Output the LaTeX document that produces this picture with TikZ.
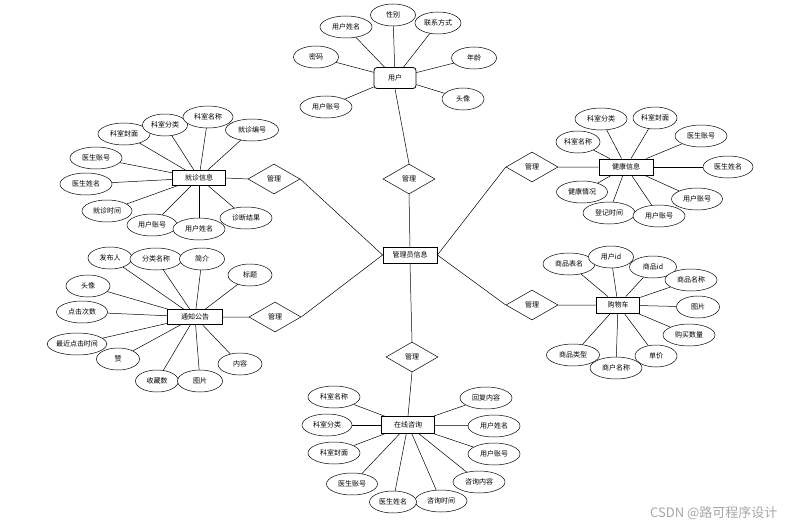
\documentclass[tikz,border=0pt]{standalone}
\usepackage{fontspec}
\newfontfamily\cjk{Noto Sans CJK SC}
\usetikzlibrary{shapes.geometric}

\begin{document}
\begin{tikzpicture} [x=1pt,y=-1pt,font=\cjk\fontsize{7}{8}\selectfont,
 attr/.style={draw,ellipse,fill=white,line width=.5pt,minimum height=22pt,inner sep=0pt},
 ent/.style={draw,fill=white,line width=.8pt,minimum height=16pt,inner sep=0pt},
 rel/.style={draw,diamond,aspect=1.7,fill=white,line width=.5pt,minimum width=52pt,minimum height=30pt,inner sep=0pt}]
\useasboundingbox (0,0) rectangle (787,527);
\node[ent,minimum width=54pt] (gly) at (410,255) {管理员信息};
\node[ent,rounded corners=3pt,minimum width=42pt,minimum height=21pt] (yh) at (395,78) {用户};
\node[ent,minimum width=53pt,minimum height=15pt] (jz) at (199,178) {就诊信息};
\node[ent,minimum width=54pt] (jk) at (626,167) {健康信息};
\node[ent,minimum width=55pt,minimum height=15pt] (tz) at (195,317) {通知公告};
\node[ent,minimum width=43pt] (gw) at (618,305) {购物车};
\node[ent,minimum width=53pt,minimum height=17pt] (zx) at (408,425) {在线咨询};
\foreach \n/\x/\y/\w/\t in {1/346/27/52/用户姓名, 2/393/15/45/性别, 3/438/23/46/联系方式,
 4/316/57/45/密码, 5/474/58/45/年龄, 6/326/107/52/用户账号, 7/463/99/42/头像} {
 \node[attr,minimum width=\w pt] (yh\n) at (\x,\y) {\t};
 \draw[line width=.5pt] (yh) -- (yh\n);
}
\foreach \n/\x/\y/\w/\t in {1/124/134/52/科室封面, 2/165/125/45/科室分类, 3/208/117/50/科室名称,
 4/252/130/53/就诊编号, 5/96/158/52/医生账号, 6/86/184/52/医生姓名, 7/107/211/50/就诊时间,
 8/152/225/50/用户账号, 9/199/229/52/用户姓名, 10/246/218/52/诊断结果} {
 \node[attr,minimum width=\w pt] (jz\n) at (\x,\y) {\t};
 \draw[line width=.5pt] (jz) -- (jz\n);
}
\foreach \n/\x/\y/\w/\t in {1/578/142/44/科室名称, 2/601/119/52/科室分类, 3/655/118/44/科室封面,
 4/701/136/52/医生账号, 5/728/167/50/医生姓名, 6/697/199/51/用户账号, 7/582/192/51/健康情况,
 8/609/213/52/登记时间, 9/659/216/52/用户账号} {
 \node[attr,minimum width=\w pt] (jk\n) at (\x,\y) {\t};
 \draw[line width=.5pt] (jk) -- (jk\n);
}
\foreach \n/\x/\y/\w/\t in {1/110/258/44/发布人, 2/156/259/52/分类名称, 3/202/259/45/简介,
 4/250/275/44/标题, 5/88/286/44/头像, 6/82/312/51/点击次数, 7/77/344/59/最近点击时间,
 8/118/359/43/赞, 9/157/381/43/收藏数, 10/200/381/45/图片, 11/240/364/44/内容} {
 \node[attr,minimum width=\w pt] (tz\n) at (\x,\y) {\t};
 \draw[line width=.5pt] (tz) -- (tz\n);
}
\foreach \n/\x/\y/\w/\t in {1/569/264/52/商品表名, 2/611/257/45/用户id, 3/653/267/47/商品id,
 4/691/280/52/商品名称, 5/698/307/43/图片, 6/689/335/52/购买数量, 7/573/355/53/商品类型,
 8/656/356/42/单价, 9/616/368/52/商户名称} {
 \node[attr,minimum width=\w pt] (gw\n) at (\x,\y) {\t};
 \draw[line width=.5pt] (gw) -- (gw\n);
}
\foreach \n/\x/\y/\w/\t in {1/334/397/52/科室名称, 2/327/425/50/科室分类, 3/334/453/52/科室封面,
 4/352/484/51/医生账号, 5/441/501/52/咨询时间, 6/393/502/47/医生姓名, 7/479/482/52/咨询内容,
 8/494/454/52/用户账号, 9/494/426/52/用户姓名, 10/486/398/52/回复内容} {
 \node[attr,minimum width=\w pt] (zx\n) at (\x,\y) {\t};
 \draw[line width=.5pt] (zx) -- (zx\n);
}
% relationships
\node[rel] (r1) at (409,179) {管理};
\node[rel] (r2) at (274,179) {管理};
\node[rel] (r3) at (275,317) {管理};
\node[rel] (r4) at (532,167) {管理};
\node[rel] (r5) at (532,305) {管理};
\node[rel] (r6) at (412,357) {管理};
\draw[line width=.5pt] (yh.south) -- (r1.north) (r1.south) -- (gly.north);
\draw[line width=.5pt] (jz.east) -- (r2.west) (r2.east) -- (gly.west);
\draw[line width=.5pt] (tz.east) -- (r3.west) (r3.east) -- (gly.west);
\draw[line width=.5pt] (jk.west) -- (r4.east) (r4.west) -- (gly.east);
\draw[line width=.5pt] (gw.west) -- (r5.east) (r5.west) -- (gly.east);
\draw[line width=.5pt] (gly.south) -- (r6.north) (r6.south) -- (zx.north);
\node[anchor=east,text=black!35,font=\cjk\fontsize{13}{14}\selectfont] (wm) at (781,513) {CSDN @路可程序设计};
\end{tikzpicture}
\end{document}
